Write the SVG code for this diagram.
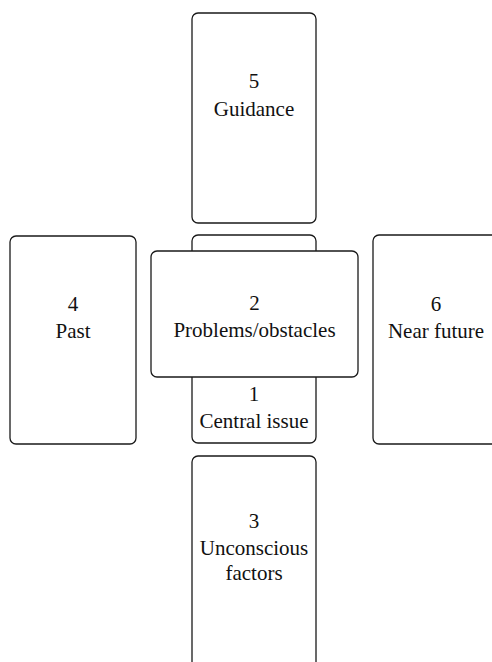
<svg xmlns="http://www.w3.org/2000/svg" width="492" height="662" viewBox="0 0 492 662">
<style>
.card{fill:#fff;stroke:#1a1a1a;stroke-width:1.3}
.t{font-family:"Liberation Serif","Times New Roman",serif;font-size:21px;fill:#111;text-anchor:middle}
</style>
<rect width="492" height="662" fill="#fff"/>
<g id="connectors"/>
<g id="card5">
<rect class="card" x="192" y="13" width="124" height="210" rx="6"/>
<text class="t" x="254" y="88">5</text>
<text class="t" x="254" y="116">Guidance</text>
</g>
<g id="card1">
<rect class="card" x="192" y="235" width="124" height="208" rx="6"/>
<text class="t" x="254" y="401">1</text>
<text class="t" x="254" y="428">Central issue</text>
</g>
<g id="card2">
<rect class="card" x="151" y="251" width="207" height="126" rx="6"/>
<text class="t" x="254.5" y="310">2</text>
<text class="t" x="254.5" y="337">Problems/obstacles</text>
</g>
<g id="card4">
<rect class="card" x="10" y="236" width="126" height="208" rx="6"/>
<text class="t" x="73" y="311">4</text>
<text class="t" x="73" y="338">Past</text>
</g>
<g id="card6">
<rect class="card" x="373" y="235" width="126" height="209" rx="6"/>
<text class="t" x="436" y="311">6</text>
<text class="t" x="436" y="338">Near future</text>
</g>
<g id="card3">
<rect class="card" x="192" y="456" width="124" height="215" rx="6"/>
<text class="t" x="254" y="528">3</text>
<text class="t" x="254" y="555">Unconscious</text>
<text class="t" x="254" y="580">factors</text>
</g>
</svg>
